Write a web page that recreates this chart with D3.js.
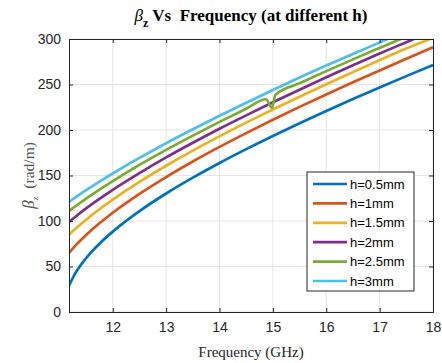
<!DOCTYPE html>
<html><head><meta charset="utf-8">
<script src="https://cdn.jsdelivr.net/npm/d3@7"></script>
<style>body{margin:0;background:#fff}svg{display:block}</style>
</head><body>
<script>
const freq = [11.18, 11.3, 11.5, 11.75, 12, 12.5, 13, 13.5, 14, 14.5, 15, 15.5, 16, 16.5, 17, 17.5, 18];
const h05 = [29, 42.7, 59.1, 75.0, 88.3, 110.8, 130.2, 147.6, 163.8, 179.0, 193.5, 207.4, 220.9, 234.0, 246.7, 259.2, 271.4];
const h1  = [65, 72.9, 84.6, 97.5, 109.1, 129.8, 148.3, 165.4, 181.4, 196.6, 211.2, 225.4, 239.1, 252.4, 265.5, 278.3, 290.9];
const h15 = [85, 91.4, 101.4, 112.9, 123.5, 143.0, 160.7, 177.3, 193.0, 208.1, 222.5, 236.6, 250.3, 263.6, 276.8, 289.6, 301.3];
const h2  = [99, 104.7, 113.8, 124.3, 134.3, 152.7, 169.9, 186.0, 201.4, 216.1, 230.4, 244.3, 257.9, 271.2, 284.0, 296.5, 309.0];
const h25freq = [11.18, 11.3, 11.5, 11.75, 12, 12.5, 13, 13.5, 14, 14.5, 14.87, 14.98, 15.05, 15.5, 16, 16.5, 17, 17.5, 18];
const h25 = [111, 116.2, 124.6, 134.5, 143.9, 161.6, 178.1, 193.8, 208.9, 223.4, 233.8, 224.5, 238.8, 251.3, 264.7, 277.6, 290.2, 302.7, 315.0];
const h3  = [121, 125.9, 133.8, 143.2, 152.2, 169.3, 185.5, 200.9, 215.7, 230.0, 244.0, 257.7, 270.8, 283.6, 296.2, 308.8, 321.0];
const seriesNames = ["h=0.5mm", "h=1mm", "h=1.5mm", "h=2mm", "h=2.5mm", "h=3mm"];
const colors = ["#0072BD", "#D95319", "#EDB120", "#7E2F8E", "#77AC30", "#4DBEEE"];
const xTicks = [12, 13, 14, 15, 16, 17, 18];
const yTicks = [0, 50, 100, 150, 200, 250, 300];

const series = [
  {x: freq, y: h05}, {x: freq, y: h1}, {x: freq, y: h15},
  {x: freq, y: h2}, {x: h25freq, y: h25}, {x: freq, y: h3}
];

const W = 442, H = 363;
const m = {l: 69, r: 9, t: 39, b: 51};
const iw = W - m.l - m.r, ih = H - m.t - m.b;
const svg = d3.select("body").append("svg").attr("width", W).attr("height", H);
const x = d3.scaleLinear().domain([11.18, 18]).range([m.l, m.l + iw]);
const y = d3.scaleLinear().domain([0, 300]).range([m.t + ih, m.t]);
const axCol = "#262626";

// grid
const g = svg.append("g");
g.selectAll(".gx").data(xTicks).enter().append("line")
  .attr("x1", d => x(d)).attr("x2", d => x(d)).attr("y1", m.t).attr("y2", m.t + ih)
  .attr("stroke", "#e5e5e5").attr("stroke-width", 1);
g.selectAll(".gy").data(yTicks).enter().append("line")
  .attr("y1", d => y(d)).attr("y2", d => y(d)).attr("x1", m.l).attr("x2", m.l + iw)
  .attr("stroke", "#e5e5e5").attr("stroke-width", 1);

// clip
svg.append("clipPath").attr("id", "clip").append("rect")
  .attr("x", m.l).attr("y", m.t).attr("width", iw).attr("height", ih);

const line = d3.line().x(d => x(d[0])).y(d => y(d[1])).curve(d3.curveMonotoneX);
svg.append("g").attr("clip-path", "url(#clip)").selectAll("path").data(series).enter().append("path")
  .attr("d", s => line(s.x.map((v, i) => [v, s.y[i]])))
  .attr("fill", "none").attr("stroke", (s, i) => colors[i]).attr("stroke-width", 2.7)
  .attr("stroke-linejoin", "round");

// axes
const fontSans = "Liberation Sans, Arial, sans-serif";
const xAxB = svg.append("g").attr("transform", `translate(0,${m.t + ih})`)
  .call(d3.axisBottom(x).tickValues(xTicks).tickSize(-4).tickPadding(10).tickFormat(d3.format("d")));
const xAxT = svg.append("g").attr("transform", `translate(0,${m.t})`)
  .call(d3.axisTop(x).tickValues(xTicks).tickSize(-4).tickFormat(""));
const yAxL = svg.append("g").attr("transform", `translate(${m.l},0)`)
  .call(d3.axisLeft(y).tickValues(yTicks).tickSize(-4).tickPadding(8));
const yAxR = svg.append("g").attr("transform", `translate(${m.l + iw},0)`)
  .call(d3.axisRight(y).tickValues(yTicks).tickSize(-4).tickFormat(""));
[xAxB, xAxT, yAxL, yAxR].forEach(a => {
  a.select(".domain").attr("stroke", axCol).attr("stroke-width", 1);
  a.selectAll(".tick line").attr("stroke", axCol);
  a.selectAll("text").attr("fill", axCol).style("font-family", fontSans).style("font-size", "14px");
});

// title
const title = svg.append("text").attr("x", 251).attr("y", 21).attr("text-anchor", "middle")
  .style("font-family", "Liberation Serif, Times New Roman, serif").style("font-size", "17px")
  .style("font-weight", "bold").attr("fill", "#000");
title.append("tspan").text("β").style("font-style", "italic").style("font-weight", "normal");
title.append("tspan").text("z").attr("dy", 6).style("font-size", "12px");
title.append("tspan").text(" Vs  Frequency (at different h)").attr("dy", -6).attr("xml:space", "preserve");

// x label
svg.append("text").attr("x", m.l + iw / 2).attr("y", 357).attr("text-anchor", "middle")
  .style("font-family", "Liberation Serif, Times New Roman, serif").style("font-size", "15px")
  .attr("fill", axCol).text("Frequency (GHz)");

// y label
const yl = svg.append("text").attr("transform", `translate(34,${m.t + ih / 2}) rotate(-90)`)
  .attr("text-anchor", "middle")
  .style("font-family", "Liberation Serif, Times New Roman, serif").style("font-size", "15.5px")
  .attr("fill", "#555");
yl.append("tspan").text("β").style("font-style", "italic").style("font-size", "17px");
yl.append("tspan").text("z").attr("dy", 4).style("font-size", "9px");
yl.append("tspan").text("  (rad/m)").attr("dy", -4).attr("xml:space", "preserve");

// legend
const lg = svg.append("g");
lg.append("rect").attr("x", 307).attr("y", 172).attr("width", 107).attr("height", 119)
  .attr("fill", "#fff").attr("stroke", axCol).attr("stroke-width", 1);
seriesNames.forEach((n, i) => {
  const cy = 184 + i * 19.4;
  lg.append("line").attr("x1", 313).attr("x2", 347).attr("y1", cy).attr("y2", cy)
    .attr("stroke", colors[i]).attr("stroke-width", 2.7);
  lg.append("text").attr("x", 350).attr("y", cy + 4.5).text(n)
    .style("font-family", fontSans).style("font-size", "13px").attr("fill", "#000");
});
</script>
</body></html>
